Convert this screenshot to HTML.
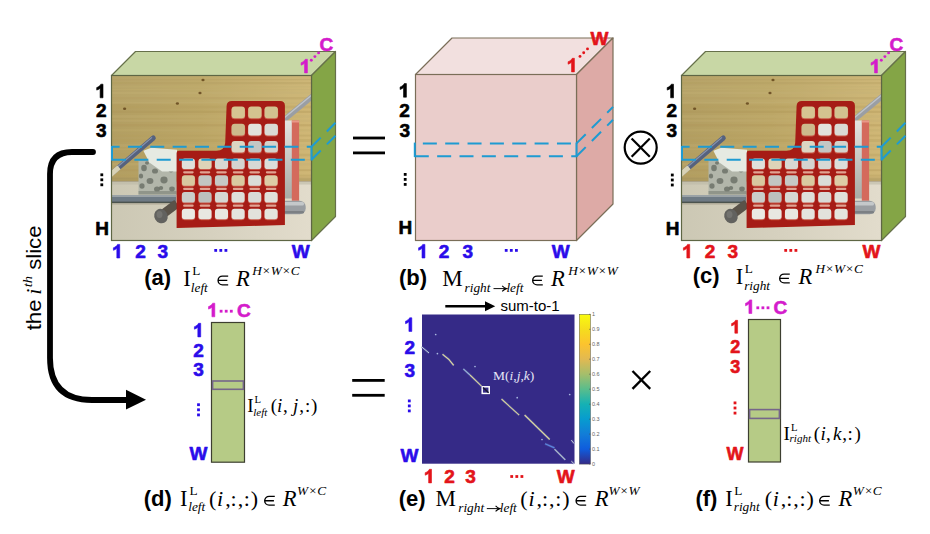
<!DOCTYPE html><html><head><meta charset="utf-8"><style>html,body{margin:0;padding:0;background:#fff;}body{width:930px;height:534px;overflow:hidden;} svg{display:block;}</style></head><body><svg width="930" height="534" viewBox="0 0 930 534">
<defs><clipPath id="cpA"><rect x="111.5" y="75.5" width="200" height="165"/></clipPath><linearGradient id="flr" x1="0" y1="0" x2="1" y2="0"><stop offset="0" stop-color="#ccc8b4"/><stop offset="0.5" stop-color="#d6d1bf"/><stop offset="1" stop-color="#e2dccc"/></linearGradient><linearGradient id="wood" x1="0" y1="0" x2="1" y2="0"><stop offset="0" stop-color="#b29e62"/><stop offset="0.45" stop-color="#bca666"/><stop offset="1" stop-color="#d0b776"/></linearGradient><linearGradient id="wbx" x1="0" y1="0" x2="0" y2="1"><stop offset="0" stop-color="#e4e4e0"/><stop offset="1" stop-color="#a8aaa6"/></linearGradient><filter id="soft" x="0" y="0" width="1" height="1"><feGaussianBlur stdDeviation="0.45"/></filter><linearGradient id="parula" x1="0" y1="1" x2="0" y2="0"><stop offset="0" stop-color="#352a87"/><stop offset="0.1" stop-color="#0f5cdd"/><stop offset="0.2" stop-color="#127dd8"/><stop offset="0.3" stop-color="#079ccf"/><stop offset="0.4" stop-color="#15b1b4"/><stop offset="0.5" stop-color="#59bd8c"/><stop offset="0.6" stop-color="#a5be6b"/><stop offset="0.7" stop-color="#e1b952"/><stop offset="0.8" stop-color="#fcc32e"/><stop offset="0.9" stop-color="#f5dd1d"/><stop offset="1" stop-color="#f9fb0e"/></linearGradient></defs>
<rect width="930" height="534" fill="#fff"/>
<polygon points="111.5,75.5 135.5,51.5 335.5,51.5 311.5,75.5" fill="#c8d7a5" stroke="#66704a" stroke-width="1.2" stroke-linejoin="round"/>
<polygon points="311.5,75.5 335.5,51.5 335.5,216.5 311.5,240.5" fill="#84a546" stroke="#66704a" stroke-width="1.2" stroke-linejoin="round"/>
<g clip-path="url(#cpA)"><g filter="url(#soft)"><rect x="111" y="75" width="201" height="107" fill="url(#wood)"/>
<rect x="111" y="75.0" width="201" height="1.6" fill="#c4b074" opacity="0.35"/>
<rect x="111" y="79.1" width="201" height="1.1" fill="#ad9456" opacity="0.35"/>
<rect x="111" y="82.0" width="201" height="2.2" fill="#ad9456" opacity="0.35"/>
<rect x="111" y="86.2" width="201" height="1.2" fill="#c0ab6e" opacity="0.35"/>
<rect x="111" y="89.0" width="201" height="1.2" fill="#c0ab6e" opacity="0.35"/>
<rect x="111" y="91.8" width="201" height="2.1" fill="#c4b074" opacity="0.35"/>
<rect x="111" y="97.1" width="201" height="2.2" fill="#b09658" opacity="0.35"/>
<rect x="111" y="102.2" width="201" height="1.8" fill="#c4b074" opacity="0.35"/>
<rect x="111" y="105.6" width="201" height="2.7" fill="#b59d5e" opacity="0.35"/>
<rect x="111" y="110.8" width="201" height="2.1" fill="#ad9456" opacity="0.35"/>
<rect x="111" y="115.2" width="201" height="2.6" fill="#c4b074" opacity="0.35"/>
<rect x="111" y="119.6" width="201" height="2.1" fill="#c4b074" opacity="0.35"/>
<rect x="111" y="124.2" width="201" height="2.1" fill="#b09658" opacity="0.35"/>
<rect x="111" y="129.2" width="201" height="2.2" fill="#c0ab6e" opacity="0.35"/>
<rect x="111" y="134.6" width="201" height="1.9" fill="#b59d5e" opacity="0.35"/>
<rect x="111" y="139.1" width="201" height="2.8" fill="#b59d5e" opacity="0.35"/>
<rect x="111" y="144.2" width="201" height="2.6" fill="#c4b074" opacity="0.35"/>
<rect x="111" y="148.5" width="201" height="1.6" fill="#c0ab6e" opacity="0.35"/>
<rect x="111" y="153.8" width="201" height="2.5" fill="#b59d5e" opacity="0.35"/>
<rect x="111" y="159.3" width="201" height="1.1" fill="#ad9456" opacity="0.35"/>
<rect x="111" y="163.0" width="201" height="2.5" fill="#c4b074" opacity="0.35"/>
<rect x="111" y="169.3" width="201" height="1.8" fill="#b09658" opacity="0.35"/>
<rect x="111" y="174.6" width="201" height="2.1" fill="#b59d5e" opacity="0.35"/>
<rect x="111" y="179.1" width="201" height="1.7" fill="#c0ab6e" opacity="0.35"/>
<rect x="111" y="75" width="201" height="28" fill="#c8b880" opacity="0.2"/>
<ellipse cx="203" cy="80" rx="1.6" ry="1.3" fill="#5e4018" opacity="0.8"/>
<ellipse cx="200" cy="93" rx="1.6" ry="1.3" fill="#5e4018" opacity="0.8"/>
<ellipse cx="177.4" cy="103.5" rx="1.6" ry="1.3" fill="#5e4018" opacity="0.8"/>
<ellipse cx="124.6" cy="108.7" rx="1.6" ry="1.3" fill="#5e4018" opacity="0.8"/>
<rect x="111" y="177.5" width="201" height="4" fill="#9c8a58" opacity="0.35"/>
<rect x="111" y="181" width="201" height="1.2" fill="#6a5a3a" opacity="0.7"/>
<rect x="111" y="181.5" width="201" height="59" fill="url(#flr)"/>
<rect x="111" y="181.5" width="201" height="3" fill="#bdb9a6" opacity="0.6"/>
<rect x="111" y="195" width="65" height="8" fill="#6e7a84"/>
<rect x="111" y="195" width="65" height="2" fill="#9aa2a6"/>
<rect x="111" y="201.6" width="65" height="1.6" fill="#4c524e"/>
<rect x="111" y="203.2" width="65" height="1.5" fill="#a8a490" opacity="0.6"/>
<rect x="138.5" y="160.5" width="38" height="34" fill="#b2b6aa"/>
<ellipse cx="144" cy="168" rx="2.8" ry="3.2" fill="#6c7268" opacity="0.85"/>
<ellipse cx="150" cy="181" rx="3.4" ry="3.0" fill="#6c7268" opacity="0.85"/>
<ellipse cx="155" cy="171" rx="3.0" ry="2.6" fill="#6c7268" opacity="0.85"/>
<ellipse cx="164" cy="180" rx="3.6" ry="3.4" fill="#6c7268" opacity="0.85"/>
<ellipse cx="142" cy="186" rx="2.6" ry="2.8" fill="#6c7268" opacity="0.85"/>
<ellipse cx="157" cy="189" rx="3.0" ry="2.6" fill="#6c7268" opacity="0.85"/>
<ellipse cx="171" cy="170" rx="2.6" ry="2.4" fill="#6c7268" opacity="0.85"/>
<ellipse cx="147" cy="163" rx="2.0" ry="1.8" fill="#6c7268" opacity="0.85"/>
<ellipse cx="172" cy="189" rx="2.8" ry="2.4" fill="#6c7268" opacity="0.85"/>
<ellipse cx="141" cy="176" rx="2.2" ry="2.6" fill="#6c7268" opacity="0.85"/>
<ellipse cx="161" cy="188" rx="2.2" ry="2.0" fill="#6c7268" opacity="0.85"/>
<ellipse cx="168" cy="164" rx="2.0" ry="1.8" fill="#6c7268" opacity="0.85"/>
<rect x="138.5" y="191" width="38" height="3.5" fill="#7a7e74" opacity="0.6"/>
<polygon points="143.4,150.7 151.3,147.8 177,149.7 177,171.4 162.1,171.4 149.3,162.5" fill="#e6eae2"/>
<line x1="153.3" y1="138" x2="113" y2="172.4" stroke="#56627e" stroke-width="5" stroke-linecap="round"/>
<line x1="152" y1="137.4" x2="112" y2="171.5" stroke="#8a96ae" stroke-width="1.2"/>
<line x1="119" y1="167.3" x2="110" y2="175" stroke="#d8d2b6" stroke-width="5"/>
<line x1="163" y1="214" x2="177" y2="203.5" stroke="#5a524a" stroke-width="9"/>
<ellipse cx="161" cy="216.1" rx="6.6" ry="7.4" fill="#62625e" transform="rotate(-30 161 216.1)"/>
<ellipse cx="159.5" cy="214.5" rx="3" ry="3.5" fill="#7a7a76" opacity="0.7"/>
<line x1="313" y1="95.8" x2="262" y2="138" stroke="#9a9ea4" stroke-width="5.5"/>
<line x1="313" y1="94" x2="262" y2="136.2" stroke="#c0c4c8" stroke-width="1.4"/>
<rect x="283" y="120.5" width="9" height="78" fill="url(#wbx)"/>
<rect x="291.8" y="120.5" width="7.3" height="80.3" fill="#d46a5c"/>
<rect x="291.8" y="120.5" width="7.3" height="2" fill="#e89888"/>
<rect x="278" y="200.8" width="27.7" height="13.4" rx="6" fill="#9a9ea2"/>
<rect x="278" y="202" width="26" height="3.5" rx="1.5" fill="#c4c8ca"/>
<rect x="278" y="211" width="26" height="2.6" rx="1.3" fill="#7c8084"/>
<path d="M176.6,153 Q176.6,150.7 179,150.7 L216.5,150.7 Q224.5,150.5 225.2,143 L226.6,106 Q226.8,100.9 232,100.9 L280,100.9 Q284.9,100.9 284.9,105.5 L284.9,225 L176.6,228 Z" fill="#a61c12"/>
<rect x="231.3" y="107.6" width="13.9" height="11.6" rx="3.2" fill="#c9584a"/>
<rect x="231.6" y="106.6" width="13.3" height="11.6" rx="3" fill="#d6c592"/>
<rect x="247.9" y="107.6" width="13.9" height="11.6" rx="3.2" fill="#c9584a"/>
<rect x="248.2" y="106.6" width="13.3" height="11.6" rx="3" fill="#d4c390"/>
<rect x="264.3" y="107.6" width="13.9" height="11.6" rx="3.2" fill="#c9584a"/>
<rect x="264.6" y="106.6" width="13.3" height="11.6" rx="3" fill="#d2c290"/>
<rect x="231.3" y="124.8" width="13.9" height="11.6" rx="3.2" fill="#c9584a"/>
<rect x="231.6" y="123.8" width="13.3" height="11.6" rx="3" fill="#cdb98c"/>
<rect x="247.9" y="124.8" width="13.9" height="11.6" rx="3.2" fill="#c9584a"/>
<rect x="248.2" y="123.8" width="13.3" height="11.6" rx="3" fill="#e2e2dc"/>
<rect x="264.3" y="124.8" width="13.9" height="11.6" rx="3.2" fill="#c9584a"/>
<rect x="264.6" y="123.8" width="13.3" height="11.6" rx="3" fill="#dadad4"/>
<rect x="231.3" y="142.0" width="13.9" height="11.6" rx="3.2" fill="#c9584a"/>
<rect x="231.6" y="141.0" width="13.3" height="11.6" rx="3" fill="#dcd6c4"/>
<rect x="247.9" y="142.0" width="13.9" height="11.6" rx="3.2" fill="#c9584a"/>
<rect x="248.2" y="141.0" width="13.3" height="11.6" rx="3" fill="#c4c6c4"/>
<rect x="264.3" y="142.0" width="13.9" height="11.6" rx="3.2" fill="#c9584a"/>
<rect x="264.6" y="141.0" width="13.3" height="11.6" rx="3" fill="#d4d2ca"/>
<rect x="181.6" y="159.6" width="13.6" height="10.5" rx="3" fill="#c9584a"/>
<rect x="181.9" y="158.6" width="13" height="10.5" rx="2.8" fill="#e0e0da"/>
<rect x="183.1" y="171.2" width="10.6" height="2.2" rx="1.1" fill="#e8b2a2" opacity="0.9"/>
<rect x="198.2" y="159.6" width="13.6" height="10.5" rx="3" fill="#c9584a"/>
<rect x="198.5" y="158.6" width="13" height="10.5" rx="2.8" fill="#ddd4b8"/>
<rect x="199.7" y="171.2" width="10.6" height="2.2" rx="1.1" fill="#e8b2a2" opacity="0.9"/>
<rect x="214.7" y="159.6" width="13.6" height="10.5" rx="3" fill="#c9584a"/>
<rect x="215.0" y="158.6" width="13" height="10.5" rx="2.8" fill="#d8d8d2"/>
<rect x="216.2" y="171.2" width="10.6" height="2.2" rx="1.1" fill="#e8b2a2" opacity="0.9"/>
<rect x="231.3" y="159.6" width="13.6" height="10.5" rx="3" fill="#c9584a"/>
<rect x="231.6" y="158.6" width="13" height="10.5" rx="2.8" fill="#d4d4cf"/>
<rect x="232.8" y="171.2" width="10.6" height="2.2" rx="1.1" fill="#e8b2a2" opacity="0.9"/>
<rect x="247.9" y="159.6" width="13.6" height="10.5" rx="3" fill="#c9584a"/>
<rect x="248.2" y="158.6" width="13" height="10.5" rx="2.8" fill="#d6d8d4"/>
<rect x="249.4" y="171.2" width="10.6" height="2.2" rx="1.1" fill="#e8b2a2" opacity="0.9"/>
<rect x="264.3" y="159.6" width="13.6" height="10.5" rx="3" fill="#c9584a"/>
<rect x="264.6" y="158.6" width="13" height="10.5" rx="2.8" fill="#dcdeda"/>
<rect x="265.8" y="171.2" width="10.6" height="2.2" rx="1.1" fill="#e8b2a2" opacity="0.9"/>
<rect x="181.6" y="176.2" width="13.6" height="10.5" rx="3" fill="#c9584a"/>
<rect x="181.9" y="175.2" width="13" height="10.5" rx="2.8" fill="#d8c8a0"/>
<rect x="183.1" y="187.8" width="10.6" height="2.2" rx="1.1" fill="#e8b2a2" opacity="0.9"/>
<rect x="198.2" y="176.2" width="13.6" height="10.5" rx="3" fill="#c9584a"/>
<rect x="198.5" y="175.2" width="13" height="10.5" rx="2.8" fill="#c2c6c2"/>
<rect x="199.7" y="187.8" width="10.6" height="2.2" rx="1.1" fill="#e8b2a2" opacity="0.9"/>
<rect x="214.7" y="176.2" width="13.6" height="10.5" rx="3" fill="#c9584a"/>
<rect x="215.0" y="175.2" width="13" height="10.5" rx="2.8" fill="#c6c8c4"/>
<rect x="216.2" y="187.8" width="10.6" height="2.2" rx="1.1" fill="#e8b2a2" opacity="0.9"/>
<rect x="231.3" y="176.2" width="13.6" height="10.5" rx="3" fill="#c9584a"/>
<rect x="231.6" y="175.2" width="13" height="10.5" rx="2.8" fill="#d9c9a0"/>
<rect x="232.8" y="187.8" width="10.6" height="2.2" rx="1.1" fill="#e8b2a2" opacity="0.9"/>
<rect x="247.9" y="176.2" width="13.6" height="10.5" rx="3" fill="#c9584a"/>
<rect x="248.2" y="175.2" width="13" height="10.5" rx="2.8" fill="#dadcd8"/>
<rect x="249.4" y="187.8" width="10.6" height="2.2" rx="1.1" fill="#e8b2a2" opacity="0.9"/>
<rect x="264.3" y="176.2" width="13.6" height="10.5" rx="3" fill="#c9584a"/>
<rect x="264.6" y="175.2" width="13" height="10.5" rx="2.8" fill="#ddcca6"/>
<rect x="265.8" y="187.8" width="10.6" height="2.2" rx="1.1" fill="#e8b2a2" opacity="0.9"/>
<rect x="181.6" y="193.0" width="13.6" height="10.5" rx="3" fill="#c9584a"/>
<rect x="181.9" y="192.0" width="13" height="10.5" rx="2.8" fill="#cacecb"/>
<rect x="183.1" y="204.6" width="10.6" height="2.2" rx="1.1" fill="#e8b2a2" opacity="0.9"/>
<rect x="198.2" y="193.0" width="13.6" height="10.5" rx="3" fill="#c9584a"/>
<rect x="198.5" y="192.0" width="13" height="10.5" rx="2.8" fill="#bcc0be"/>
<rect x="199.7" y="204.6" width="10.6" height="2.2" rx="1.1" fill="#e8b2a2" opacity="0.9"/>
<rect x="214.7" y="193.0" width="13.6" height="10.5" rx="3" fill="#c9584a"/>
<rect x="215.0" y="192.0" width="13" height="10.5" rx="2.8" fill="#d6d7d3"/>
<rect x="216.2" y="204.6" width="10.6" height="2.2" rx="1.1" fill="#e8b2a2" opacity="0.9"/>
<rect x="231.3" y="193.0" width="13.6" height="10.5" rx="3" fill="#c9584a"/>
<rect x="231.6" y="192.0" width="13" height="10.5" rx="2.8" fill="#dedfd9"/>
<rect x="232.8" y="204.6" width="10.6" height="2.2" rx="1.1" fill="#e8b2a2" opacity="0.9"/>
<rect x="247.9" y="193.0" width="13.6" height="10.5" rx="3" fill="#c9584a"/>
<rect x="248.2" y="192.0" width="13" height="10.5" rx="2.8" fill="#d8dad6"/>
<rect x="249.4" y="204.6" width="10.6" height="2.2" rx="1.1" fill="#e8b2a2" opacity="0.9"/>
<rect x="264.3" y="193.0" width="13.6" height="10.5" rx="3" fill="#c9584a"/>
<rect x="264.6" y="192.0" width="13" height="10.5" rx="2.8" fill="#e0e0da"/>
<rect x="265.8" y="204.6" width="10.6" height="2.2" rx="1.1" fill="#e8b2a2" opacity="0.9"/>
<rect x="181.6" y="209.8" width="13.6" height="10.5" rx="3" fill="#c9584a"/>
<rect x="181.9" y="208.8" width="13" height="10.5" rx="2.8" fill="#eaeae4"/>
<rect x="198.2" y="209.8" width="13.6" height="10.5" rx="3" fill="#c9584a"/>
<rect x="198.5" y="208.8" width="13" height="10.5" rx="2.8" fill="#e8e8e2"/>
<rect x="214.7" y="209.8" width="13.6" height="10.5" rx="3" fill="#c9584a"/>
<rect x="215.0" y="208.8" width="13" height="10.5" rx="2.8" fill="#e8e7e0"/>
<rect x="231.3" y="209.8" width="13.6" height="10.5" rx="3" fill="#c9584a"/>
<rect x="231.6" y="208.8" width="13" height="10.5" rx="2.8" fill="#e4e4de"/>
<rect x="247.9" y="209.8" width="13.6" height="10.5" rx="3" fill="#c9584a"/>
<rect x="248.2" y="208.8" width="13" height="10.5" rx="2.8" fill="#e2e2dc"/>
<rect x="264.3" y="209.8" width="13.6" height="10.5" rx="3" fill="#c9584a"/>
<rect x="264.6" y="208.8" width="13" height="10.5" rx="2.8" fill="#e4e4dc"/></g></g>
<rect x="111.5" y="75.5" width="200.0" height="165.0" fill="none" stroke="#5e6644" stroke-width="1.2"/>
<line x1="112" y1="146.8" x2="311.5" y2="146.8" stroke="#1e9bd2" stroke-width="2" fill="none" stroke-dasharray="14 8.35" stroke-dashoffset="6.4"/>
<line x1="112" y1="159.7" x2="311.5" y2="159.7" stroke="#1e9bd2" stroke-width="2" fill="none" stroke-dasharray="14 8.35" stroke-dashoffset="0"/>
<line x1="112" y1="146.0" x2="112" y2="160.5" stroke="#1e9bd2" stroke-width="2" fill="none"/>
<line x1="311.5" y1="146.0" x2="311.5" y2="160.5" stroke="#1e9bd2" stroke-width="2" fill="none"/>
<line x1="311.5" y1="146.8" x2="335.5" y2="122.80000000000001" stroke="#1e9bd2" stroke-width="2" fill="none" stroke-dasharray="13 8.7"/>
<line x1="311.5" y1="159.7" x2="335.5" y2="135.7" stroke="#1e9bd2" stroke-width="2" fill="none" stroke-dasharray="13 8.7"/>
<g transform="translate(570,0)">
<polygon points="111.5,75.5 135.5,51.5 335.5,51.5 311.5,75.5" fill="#c8d7a5" stroke="#66704a" stroke-width="1.2" stroke-linejoin="round"/>
<polygon points="311.5,75.5 335.5,51.5 335.5,216.5 311.5,240.5" fill="#84a546" stroke="#66704a" stroke-width="1.2" stroke-linejoin="round"/>
<g clip-path="url(#cpA)"><g filter="url(#soft)"><rect x="111" y="75" width="201" height="107" fill="url(#wood)"/>
<rect x="111" y="75.0" width="201" height="1.6" fill="#c4b074" opacity="0.35"/>
<rect x="111" y="79.1" width="201" height="1.1" fill="#ad9456" opacity="0.35"/>
<rect x="111" y="82.0" width="201" height="2.2" fill="#ad9456" opacity="0.35"/>
<rect x="111" y="86.2" width="201" height="1.2" fill="#c0ab6e" opacity="0.35"/>
<rect x="111" y="89.0" width="201" height="1.2" fill="#c0ab6e" opacity="0.35"/>
<rect x="111" y="91.8" width="201" height="2.1" fill="#c4b074" opacity="0.35"/>
<rect x="111" y="97.1" width="201" height="2.2" fill="#b09658" opacity="0.35"/>
<rect x="111" y="102.2" width="201" height="1.8" fill="#c4b074" opacity="0.35"/>
<rect x="111" y="105.6" width="201" height="2.7" fill="#b59d5e" opacity="0.35"/>
<rect x="111" y="110.8" width="201" height="2.1" fill="#ad9456" opacity="0.35"/>
<rect x="111" y="115.2" width="201" height="2.6" fill="#c4b074" opacity="0.35"/>
<rect x="111" y="119.6" width="201" height="2.1" fill="#c4b074" opacity="0.35"/>
<rect x="111" y="124.2" width="201" height="2.1" fill="#b09658" opacity="0.35"/>
<rect x="111" y="129.2" width="201" height="2.2" fill="#c0ab6e" opacity="0.35"/>
<rect x="111" y="134.6" width="201" height="1.9" fill="#b59d5e" opacity="0.35"/>
<rect x="111" y="139.1" width="201" height="2.8" fill="#b59d5e" opacity="0.35"/>
<rect x="111" y="144.2" width="201" height="2.6" fill="#c4b074" opacity="0.35"/>
<rect x="111" y="148.5" width="201" height="1.6" fill="#c0ab6e" opacity="0.35"/>
<rect x="111" y="153.8" width="201" height="2.5" fill="#b59d5e" opacity="0.35"/>
<rect x="111" y="159.3" width="201" height="1.1" fill="#ad9456" opacity="0.35"/>
<rect x="111" y="163.0" width="201" height="2.5" fill="#c4b074" opacity="0.35"/>
<rect x="111" y="169.3" width="201" height="1.8" fill="#b09658" opacity="0.35"/>
<rect x="111" y="174.6" width="201" height="2.1" fill="#b59d5e" opacity="0.35"/>
<rect x="111" y="179.1" width="201" height="1.7" fill="#c0ab6e" opacity="0.35"/>
<rect x="111" y="75" width="201" height="28" fill="#c8b880" opacity="0.2"/>
<ellipse cx="203" cy="80" rx="1.6" ry="1.3" fill="#5e4018" opacity="0.8"/>
<ellipse cx="200" cy="93" rx="1.6" ry="1.3" fill="#5e4018" opacity="0.8"/>
<ellipse cx="177.4" cy="103.5" rx="1.6" ry="1.3" fill="#5e4018" opacity="0.8"/>
<ellipse cx="124.6" cy="108.7" rx="1.6" ry="1.3" fill="#5e4018" opacity="0.8"/>
<rect x="111" y="177.5" width="201" height="4" fill="#9c8a58" opacity="0.35"/>
<rect x="111" y="181" width="201" height="1.2" fill="#6a5a3a" opacity="0.7"/>
<rect x="111" y="181.5" width="201" height="59" fill="url(#flr)"/>
<rect x="111" y="181.5" width="201" height="3" fill="#bdb9a6" opacity="0.6"/>
<rect x="111" y="195" width="65" height="8" fill="#6e7a84"/>
<rect x="111" y="195" width="65" height="2" fill="#9aa2a6"/>
<rect x="111" y="201.6" width="65" height="1.6" fill="#4c524e"/>
<rect x="111" y="203.2" width="65" height="1.5" fill="#a8a490" opacity="0.6"/>
<rect x="138.5" y="160.5" width="38" height="34" fill="#b2b6aa"/>
<ellipse cx="144" cy="168" rx="2.8" ry="3.2" fill="#6c7268" opacity="0.85"/>
<ellipse cx="150" cy="181" rx="3.4" ry="3.0" fill="#6c7268" opacity="0.85"/>
<ellipse cx="155" cy="171" rx="3.0" ry="2.6" fill="#6c7268" opacity="0.85"/>
<ellipse cx="164" cy="180" rx="3.6" ry="3.4" fill="#6c7268" opacity="0.85"/>
<ellipse cx="142" cy="186" rx="2.6" ry="2.8" fill="#6c7268" opacity="0.85"/>
<ellipse cx="157" cy="189" rx="3.0" ry="2.6" fill="#6c7268" opacity="0.85"/>
<ellipse cx="171" cy="170" rx="2.6" ry="2.4" fill="#6c7268" opacity="0.85"/>
<ellipse cx="147" cy="163" rx="2.0" ry="1.8" fill="#6c7268" opacity="0.85"/>
<ellipse cx="172" cy="189" rx="2.8" ry="2.4" fill="#6c7268" opacity="0.85"/>
<ellipse cx="141" cy="176" rx="2.2" ry="2.6" fill="#6c7268" opacity="0.85"/>
<ellipse cx="161" cy="188" rx="2.2" ry="2.0" fill="#6c7268" opacity="0.85"/>
<ellipse cx="168" cy="164" rx="2.0" ry="1.8" fill="#6c7268" opacity="0.85"/>
<rect x="138.5" y="191" width="38" height="3.5" fill="#7a7e74" opacity="0.6"/>
<polygon points="143.4,150.7 151.3,147.8 177,149.7 177,171.4 162.1,171.4 149.3,162.5" fill="#e6eae2"/>
<line x1="153.3" y1="138" x2="113" y2="172.4" stroke="#56627e" stroke-width="5" stroke-linecap="round"/>
<line x1="152" y1="137.4" x2="112" y2="171.5" stroke="#8a96ae" stroke-width="1.2"/>
<line x1="119" y1="167.3" x2="110" y2="175" stroke="#d8d2b6" stroke-width="5"/>
<line x1="163" y1="214" x2="177" y2="203.5" stroke="#5a524a" stroke-width="9"/>
<ellipse cx="161" cy="216.1" rx="6.6" ry="7.4" fill="#62625e" transform="rotate(-30 161 216.1)"/>
<ellipse cx="159.5" cy="214.5" rx="3" ry="3.5" fill="#7a7a76" opacity="0.7"/>
<line x1="313" y1="95.8" x2="262" y2="138" stroke="#9a9ea4" stroke-width="5.5"/>
<line x1="313" y1="94" x2="262" y2="136.2" stroke="#c0c4c8" stroke-width="1.4"/>
<rect x="283" y="120.5" width="9" height="78" fill="url(#wbx)"/>
<rect x="291.8" y="120.5" width="7.3" height="80.3" fill="#d46a5c"/>
<rect x="291.8" y="120.5" width="7.3" height="2" fill="#e89888"/>
<rect x="278" y="200.8" width="27.7" height="13.4" rx="6" fill="#9a9ea2"/>
<rect x="278" y="202" width="26" height="3.5" rx="1.5" fill="#c4c8ca"/>
<rect x="278" y="211" width="26" height="2.6" rx="1.3" fill="#7c8084"/>
<path d="M176.6,153 Q176.6,150.7 179,150.7 L216.5,150.7 Q224.5,150.5 225.2,143 L226.6,106 Q226.8,100.9 232,100.9 L280,100.9 Q284.9,100.9 284.9,105.5 L284.9,225 L176.6,228 Z" fill="#a61c12"/>
<rect x="231.3" y="107.6" width="13.9" height="11.6" rx="3.2" fill="#c9584a"/>
<rect x="231.6" y="106.6" width="13.3" height="11.6" rx="3" fill="#d6c592"/>
<rect x="247.9" y="107.6" width="13.9" height="11.6" rx="3.2" fill="#c9584a"/>
<rect x="248.2" y="106.6" width="13.3" height="11.6" rx="3" fill="#d4c390"/>
<rect x="264.3" y="107.6" width="13.9" height="11.6" rx="3.2" fill="#c9584a"/>
<rect x="264.6" y="106.6" width="13.3" height="11.6" rx="3" fill="#d2c290"/>
<rect x="231.3" y="124.8" width="13.9" height="11.6" rx="3.2" fill="#c9584a"/>
<rect x="231.6" y="123.8" width="13.3" height="11.6" rx="3" fill="#cdb98c"/>
<rect x="247.9" y="124.8" width="13.9" height="11.6" rx="3.2" fill="#c9584a"/>
<rect x="248.2" y="123.8" width="13.3" height="11.6" rx="3" fill="#e2e2dc"/>
<rect x="264.3" y="124.8" width="13.9" height="11.6" rx="3.2" fill="#c9584a"/>
<rect x="264.6" y="123.8" width="13.3" height="11.6" rx="3" fill="#dadad4"/>
<rect x="231.3" y="142.0" width="13.9" height="11.6" rx="3.2" fill="#c9584a"/>
<rect x="231.6" y="141.0" width="13.3" height="11.6" rx="3" fill="#dcd6c4"/>
<rect x="247.9" y="142.0" width="13.9" height="11.6" rx="3.2" fill="#c9584a"/>
<rect x="248.2" y="141.0" width="13.3" height="11.6" rx="3" fill="#c4c6c4"/>
<rect x="264.3" y="142.0" width="13.9" height="11.6" rx="3.2" fill="#c9584a"/>
<rect x="264.6" y="141.0" width="13.3" height="11.6" rx="3" fill="#d4d2ca"/>
<rect x="181.6" y="159.6" width="13.6" height="10.5" rx="3" fill="#c9584a"/>
<rect x="181.9" y="158.6" width="13" height="10.5" rx="2.8" fill="#e0e0da"/>
<rect x="183.1" y="171.2" width="10.6" height="2.2" rx="1.1" fill="#e8b2a2" opacity="0.9"/>
<rect x="198.2" y="159.6" width="13.6" height="10.5" rx="3" fill="#c9584a"/>
<rect x="198.5" y="158.6" width="13" height="10.5" rx="2.8" fill="#ddd4b8"/>
<rect x="199.7" y="171.2" width="10.6" height="2.2" rx="1.1" fill="#e8b2a2" opacity="0.9"/>
<rect x="214.7" y="159.6" width="13.6" height="10.5" rx="3" fill="#c9584a"/>
<rect x="215.0" y="158.6" width="13" height="10.5" rx="2.8" fill="#d8d8d2"/>
<rect x="216.2" y="171.2" width="10.6" height="2.2" rx="1.1" fill="#e8b2a2" opacity="0.9"/>
<rect x="231.3" y="159.6" width="13.6" height="10.5" rx="3" fill="#c9584a"/>
<rect x="231.6" y="158.6" width="13" height="10.5" rx="2.8" fill="#d4d4cf"/>
<rect x="232.8" y="171.2" width="10.6" height="2.2" rx="1.1" fill="#e8b2a2" opacity="0.9"/>
<rect x="247.9" y="159.6" width="13.6" height="10.5" rx="3" fill="#c9584a"/>
<rect x="248.2" y="158.6" width="13" height="10.5" rx="2.8" fill="#d6d8d4"/>
<rect x="249.4" y="171.2" width="10.6" height="2.2" rx="1.1" fill="#e8b2a2" opacity="0.9"/>
<rect x="264.3" y="159.6" width="13.6" height="10.5" rx="3" fill="#c9584a"/>
<rect x="264.6" y="158.6" width="13" height="10.5" rx="2.8" fill="#dcdeda"/>
<rect x="265.8" y="171.2" width="10.6" height="2.2" rx="1.1" fill="#e8b2a2" opacity="0.9"/>
<rect x="181.6" y="176.2" width="13.6" height="10.5" rx="3" fill="#c9584a"/>
<rect x="181.9" y="175.2" width="13" height="10.5" rx="2.8" fill="#d8c8a0"/>
<rect x="183.1" y="187.8" width="10.6" height="2.2" rx="1.1" fill="#e8b2a2" opacity="0.9"/>
<rect x="198.2" y="176.2" width="13.6" height="10.5" rx="3" fill="#c9584a"/>
<rect x="198.5" y="175.2" width="13" height="10.5" rx="2.8" fill="#c2c6c2"/>
<rect x="199.7" y="187.8" width="10.6" height="2.2" rx="1.1" fill="#e8b2a2" opacity="0.9"/>
<rect x="214.7" y="176.2" width="13.6" height="10.5" rx="3" fill="#c9584a"/>
<rect x="215.0" y="175.2" width="13" height="10.5" rx="2.8" fill="#c6c8c4"/>
<rect x="216.2" y="187.8" width="10.6" height="2.2" rx="1.1" fill="#e8b2a2" opacity="0.9"/>
<rect x="231.3" y="176.2" width="13.6" height="10.5" rx="3" fill="#c9584a"/>
<rect x="231.6" y="175.2" width="13" height="10.5" rx="2.8" fill="#d9c9a0"/>
<rect x="232.8" y="187.8" width="10.6" height="2.2" rx="1.1" fill="#e8b2a2" opacity="0.9"/>
<rect x="247.9" y="176.2" width="13.6" height="10.5" rx="3" fill="#c9584a"/>
<rect x="248.2" y="175.2" width="13" height="10.5" rx="2.8" fill="#dadcd8"/>
<rect x="249.4" y="187.8" width="10.6" height="2.2" rx="1.1" fill="#e8b2a2" opacity="0.9"/>
<rect x="264.3" y="176.2" width="13.6" height="10.5" rx="3" fill="#c9584a"/>
<rect x="264.6" y="175.2" width="13" height="10.5" rx="2.8" fill="#ddcca6"/>
<rect x="265.8" y="187.8" width="10.6" height="2.2" rx="1.1" fill="#e8b2a2" opacity="0.9"/>
<rect x="181.6" y="193.0" width="13.6" height="10.5" rx="3" fill="#c9584a"/>
<rect x="181.9" y="192.0" width="13" height="10.5" rx="2.8" fill="#cacecb"/>
<rect x="183.1" y="204.6" width="10.6" height="2.2" rx="1.1" fill="#e8b2a2" opacity="0.9"/>
<rect x="198.2" y="193.0" width="13.6" height="10.5" rx="3" fill="#c9584a"/>
<rect x="198.5" y="192.0" width="13" height="10.5" rx="2.8" fill="#bcc0be"/>
<rect x="199.7" y="204.6" width="10.6" height="2.2" rx="1.1" fill="#e8b2a2" opacity="0.9"/>
<rect x="214.7" y="193.0" width="13.6" height="10.5" rx="3" fill="#c9584a"/>
<rect x="215.0" y="192.0" width="13" height="10.5" rx="2.8" fill="#d6d7d3"/>
<rect x="216.2" y="204.6" width="10.6" height="2.2" rx="1.1" fill="#e8b2a2" opacity="0.9"/>
<rect x="231.3" y="193.0" width="13.6" height="10.5" rx="3" fill="#c9584a"/>
<rect x="231.6" y="192.0" width="13" height="10.5" rx="2.8" fill="#dedfd9"/>
<rect x="232.8" y="204.6" width="10.6" height="2.2" rx="1.1" fill="#e8b2a2" opacity="0.9"/>
<rect x="247.9" y="193.0" width="13.6" height="10.5" rx="3" fill="#c9584a"/>
<rect x="248.2" y="192.0" width="13" height="10.5" rx="2.8" fill="#d8dad6"/>
<rect x="249.4" y="204.6" width="10.6" height="2.2" rx="1.1" fill="#e8b2a2" opacity="0.9"/>
<rect x="264.3" y="193.0" width="13.6" height="10.5" rx="3" fill="#c9584a"/>
<rect x="264.6" y="192.0" width="13" height="10.5" rx="2.8" fill="#e0e0da"/>
<rect x="265.8" y="204.6" width="10.6" height="2.2" rx="1.1" fill="#e8b2a2" opacity="0.9"/>
<rect x="181.6" y="209.8" width="13.6" height="10.5" rx="3" fill="#c9584a"/>
<rect x="181.9" y="208.8" width="13" height="10.5" rx="2.8" fill="#eaeae4"/>
<rect x="198.2" y="209.8" width="13.6" height="10.5" rx="3" fill="#c9584a"/>
<rect x="198.5" y="208.8" width="13" height="10.5" rx="2.8" fill="#e8e8e2"/>
<rect x="214.7" y="209.8" width="13.6" height="10.5" rx="3" fill="#c9584a"/>
<rect x="215.0" y="208.8" width="13" height="10.5" rx="2.8" fill="#e8e7e0"/>
<rect x="231.3" y="209.8" width="13.6" height="10.5" rx="3" fill="#c9584a"/>
<rect x="231.6" y="208.8" width="13" height="10.5" rx="2.8" fill="#e4e4de"/>
<rect x="247.9" y="209.8" width="13.6" height="10.5" rx="3" fill="#c9584a"/>
<rect x="248.2" y="208.8" width="13" height="10.5" rx="2.8" fill="#e2e2dc"/>
<rect x="264.3" y="209.8" width="13.6" height="10.5" rx="3" fill="#c9584a"/>
<rect x="264.6" y="208.8" width="13" height="10.5" rx="2.8" fill="#e4e4dc"/></g></g>
<rect x="111.5" y="75.5" width="200.0" height="165.0" fill="none" stroke="#5e6644" stroke-width="1.2"/>
<line x1="112" y1="146.8" x2="311.5" y2="146.8" stroke="#1e9bd2" stroke-width="2" fill="none" stroke-dasharray="14 8.35" stroke-dashoffset="6.4"/>
<line x1="112" y1="159.7" x2="311.5" y2="159.7" stroke="#1e9bd2" stroke-width="2" fill="none" stroke-dasharray="14 8.35" stroke-dashoffset="0"/>
<line x1="112" y1="146.0" x2="112" y2="160.5" stroke="#1e9bd2" stroke-width="2" fill="none"/>
<line x1="311.5" y1="146.0" x2="311.5" y2="160.5" stroke="#1e9bd2" stroke-width="2" fill="none"/>
<line x1="311.5" y1="146.8" x2="335.5" y2="122.80000000000001" stroke="#1e9bd2" stroke-width="2" fill="none" stroke-dasharray="13 8.7"/>
<line x1="311.5" y1="159.7" x2="335.5" y2="135.7" stroke="#1e9bd2" stroke-width="2" fill="none" stroke-dasharray="13 8.7"/>
</g>
<polygon points="415.5,74.5 452.0,38.0 613.0,38.0 576.5,74.5" fill="#f2e0df" stroke="#7a6e58" stroke-width="1.2" stroke-linejoin="round"/>
<polygon points="576.5,74.5 613.0,38.0 613.0,204.0 576.5,240.5" fill="#ddaaa6" stroke="#7a6e58" stroke-width="1.2" stroke-linejoin="round"/>
<rect x="415.5" y="74.5" width="161.0" height="166.0" fill="#eacdcb"/>
<rect x="415.5" y="74.5" width="161.0" height="166.0" fill="none" stroke="#7a6e58" stroke-width="1.2"/>
<line x1="414.8" y1="143.4" x2="576.5" y2="143.4" stroke="#1e9bd2" stroke-width="2" fill="none" stroke-dasharray="14 8.35" stroke-dashoffset="14.3"/>
<line x1="414.8" y1="156.3" x2="576.5" y2="156.3" stroke="#1e9bd2" stroke-width="2" fill="none" stroke-dasharray="14 8.35" stroke-dashoffset="0"/>
<line x1="414.8" y1="142.6" x2="414.8" y2="157.10000000000002" stroke="#1e9bd2" stroke-width="2" fill="none"/>
<line x1="576.5" y1="142.6" x2="576.5" y2="157.10000000000002" stroke="#1e9bd2" stroke-width="2" fill="none"/>
<line x1="576.5" y1="143.4" x2="613.0" y2="106.9" stroke="#1e9bd2" stroke-width="2" fill="none" stroke-dasharray="13 8.7"/>
<line x1="576.5" y1="156.3" x2="613.0" y2="119.80000000000001" stroke="#1e9bd2" stroke-width="2" fill="none" stroke-dasharray="13 8.7"/>
<path d="M103.01,97.80H100.13V88.15Q98.74,89.45 96.70,90.10V87.59Q98.09,87.13 99.30,86.11Q100.41,85.18 100.83,84.20H103.01Z" fill="#000" stroke="#000" stroke-width="0.6" stroke-linejoin="round"/>
<text x="95.97" y="117.1" font-family="Liberation Sans" font-size="19" font-style="normal" font-weight="bold" fill="#000" stroke="#000" stroke-width="0.6" stroke-linejoin="round">2</text>
<text x="96.04" y="136.7" font-family="Liberation Sans" font-size="19" font-style="normal" font-weight="bold" fill="#000" stroke="#000" stroke-width="0.6" stroke-linejoin="round">3</text>
<rect x="100.40" y="173.40" width="2.8" height="2.8" fill="#000"/><rect x="100.40" y="178.40" width="2.8" height="2.8" fill="#000"/><rect x="100.40" y="183.40" width="2.8" height="2.8" fill="#000"/>
<text x="95.14" y="234.6" font-family="Liberation Sans" font-size="19" font-style="normal" font-weight="bold" fill="#000" stroke="#000" stroke-width="0.6" stroke-linejoin="round">H</text>
<path d="M406.41,97.20H403.53V87.55Q402.14,88.85 400.10,89.50V86.99Q401.49,86.53 402.70,85.51Q403.81,84.58 404.23,83.60H406.41Z" fill="#000" stroke="#000" stroke-width="0.6" stroke-linejoin="round"/>
<text x="399.37" y="116.9" font-family="Liberation Sans" font-size="19" font-style="normal" font-weight="bold" fill="#000" stroke="#000" stroke-width="0.6" stroke-linejoin="round">2</text>
<text x="399.44" y="136.9" font-family="Liberation Sans" font-size="19" font-style="normal" font-weight="bold" fill="#000" stroke="#000" stroke-width="0.6" stroke-linejoin="round">3</text>
<rect x="403.80" y="173.00" width="2.8" height="2.8" fill="#000"/><rect x="403.80" y="178.00" width="2.8" height="2.8" fill="#000"/><rect x="403.80" y="183.00" width="2.8" height="2.8" fill="#000"/>
<text x="398.54" y="233.5" font-family="Liberation Sans" font-size="19" font-style="normal" font-weight="bold" fill="#000" stroke="#000" stroke-width="0.6" stroke-linejoin="round">H</text>
<path d="M673.51,97.80H670.63V88.15Q669.24,89.45 667.20,90.10V87.59Q668.59,87.13 669.80,86.11Q670.91,85.18 671.33,84.20H673.51Z" fill="#000" stroke="#000" stroke-width="0.6" stroke-linejoin="round"/>
<text x="666.47" y="117.1" font-family="Liberation Sans" font-size="19" font-style="normal" font-weight="bold" fill="#000" stroke="#000" stroke-width="0.6" stroke-linejoin="round">2</text>
<text x="666.54" y="137.0" font-family="Liberation Sans" font-size="19" font-style="normal" font-weight="bold" fill="#000" stroke="#000" stroke-width="0.6" stroke-linejoin="round">3</text>
<rect x="670.90" y="173.60" width="2.8" height="2.8" fill="#000"/><rect x="670.90" y="178.60" width="2.8" height="2.8" fill="#000"/><rect x="670.90" y="183.60" width="2.8" height="2.8" fill="#000"/>
<text x="665.64" y="234.6" font-family="Liberation Sans" font-size="19" font-style="normal" font-weight="bold" fill="#000" stroke="#000" stroke-width="0.6" stroke-linejoin="round">H</text>
<path d="M119.71,258.00H116.83V248.35Q115.44,249.65 113.40,250.30V247.79Q114.79,247.33 116.00,246.31Q117.11,245.38 117.53,244.40H119.71Z" fill="#2a0cea" stroke="#2a0cea" stroke-width="0.6" stroke-linejoin="round"/>
<text x="135.34" y="258" font-family="Liberation Sans" font-size="19" font-style="normal" font-weight="bold" fill="#2a0cea" stroke="#2a0cea" stroke-width="0.6" stroke-linejoin="round">2</text>
<text x="157.46" y="258" font-family="Liberation Sans" font-size="19" font-style="normal" font-weight="bold" fill="#2a0cea" stroke="#2a0cea" stroke-width="0.6" stroke-linejoin="round">3</text>
<rect x="214.30" y="249.00" width="2.8" height="2.8" fill="#2a0cea"/><rect x="219.40" y="249.00" width="2.8" height="2.8" fill="#2a0cea"/><rect x="224.50" y="249.00" width="2.8" height="2.8" fill="#2a0cea"/>
<text x="291.78" y="258" font-family="Liberation Sans" font-size="19" font-style="normal" font-weight="bold" fill="#2a0cea" stroke="#2a0cea" stroke-width="0.6" stroke-linejoin="round">W</text>
<path d="M424.91,258.00H422.03V248.35Q420.64,249.65 418.60,250.30V247.79Q419.99,247.33 421.20,246.31Q422.31,245.38 422.73,244.40H424.91Z" fill="#2a0cea" stroke="#2a0cea" stroke-width="0.6" stroke-linejoin="round"/>
<text x="438.74" y="258" font-family="Liberation Sans" font-size="19" font-style="normal" font-weight="bold" fill="#2a0cea" stroke="#2a0cea" stroke-width="0.6" stroke-linejoin="round">2</text>
<text x="462.56" y="258" font-family="Liberation Sans" font-size="19" font-style="normal" font-weight="bold" fill="#2a0cea" stroke="#2a0cea" stroke-width="0.6" stroke-linejoin="round">3</text>
<rect x="504.80" y="249.00" width="2.8" height="2.8" fill="#2a0cea"/><rect x="509.90" y="249.00" width="2.8" height="2.8" fill="#2a0cea"/><rect x="515.00" y="249.00" width="2.8" height="2.8" fill="#2a0cea"/>
<text x="551.78" y="258" font-family="Liberation Sans" font-size="19" font-style="normal" font-weight="bold" fill="#2a0cea" stroke="#2a0cea" stroke-width="0.6" stroke-linejoin="round">W</text>
<path d="M689.71,258.00H686.83V248.35Q685.44,249.65 683.40,250.30V247.79Q684.79,247.33 686.00,246.31Q687.11,245.38 687.53,244.40H689.71Z" fill="#e3141a" stroke="#e3141a" stroke-width="0.6" stroke-linejoin="round"/>
<text x="704.84" y="258" font-family="Liberation Sans" font-size="19" font-style="normal" font-weight="bold" fill="#e3141a" stroke="#e3141a" stroke-width="0.6" stroke-linejoin="round">2</text>
<text x="727.46" y="258" font-family="Liberation Sans" font-size="19" font-style="normal" font-weight="bold" fill="#e3141a" stroke="#e3141a" stroke-width="0.6" stroke-linejoin="round">3</text>
<rect x="784.30" y="249.00" width="2.8" height="2.8" fill="#e3141a"/><rect x="789.40" y="249.00" width="2.8" height="2.8" fill="#e3141a"/><rect x="794.50" y="249.00" width="2.8" height="2.8" fill="#e3141a"/>
<text x="862.48" y="258" font-family="Liberation Sans" font-size="19" font-style="normal" font-weight="bold" fill="#e3141a" stroke="#e3141a" stroke-width="0.6" stroke-linejoin="round">W</text>
<path d="M307.41,72.90H304.53V63.25Q303.14,64.55 301.10,65.20V62.69Q302.49,62.23 303.70,61.21Q304.81,60.28 305.23,59.30H307.41Z" fill="#d41ccb" stroke="#d41ccb" stroke-width="0.6" stroke-linejoin="round"/>
<circle cx="311.3" cy="60.3" r="1.45" fill="#d41ccb"/><circle cx="314.9" cy="56.6" r="1.45" fill="#d41ccb"/><circle cx="318.6" cy="52.9" r="1.45" fill="#d41ccb"/>
<text x="319.62" y="51.0" font-family="Liberation Sans" font-size="19" font-style="normal" font-weight="bold" fill="#d41ccb" stroke="#d41ccb" stroke-width="0.6" stroke-linejoin="round">C</text>
<path d="M877.41,72.90H874.53V63.25Q873.14,64.55 871.10,65.20V62.69Q872.49,62.23 873.70,61.21Q874.81,60.28 875.23,59.30H877.41Z" fill="#d41ccb" stroke="#d41ccb" stroke-width="0.6" stroke-linejoin="round"/>
<circle cx="881.3" cy="60.3" r="1.45" fill="#d41ccb"/><circle cx="884.9" cy="56.6" r="1.45" fill="#d41ccb"/><circle cx="888.6" cy="52.9" r="1.45" fill="#d41ccb"/>
<text x="889.62" y="51.0" font-family="Liberation Sans" font-size="19" font-style="normal" font-weight="bold" fill="#d41ccb" stroke="#d41ccb" stroke-width="0.6" stroke-linejoin="round">C</text>
<path d="M574.41,71.90H571.53V62.25Q570.14,63.55 568.10,64.20V61.69Q569.49,61.23 570.70,60.21Q571.81,59.28 572.23,58.30H574.41Z" fill="#e3141a" stroke="#e3141a" stroke-width="0.6" stroke-linejoin="round"/>
<circle cx="580" cy="56.4" r="1.45" fill="#e3141a"/><circle cx="583.7" cy="52.7" r="1.45" fill="#e3141a"/><circle cx="587.5" cy="48.9" r="1.45" fill="#e3141a"/>
<text x="590.48" y="45.0" font-family="Liberation Sans" font-size="19" font-style="normal" font-weight="bold" fill="#e3141a" stroke="#e3141a" stroke-width="0.6" stroke-linejoin="round">W</text>
<rect x="353" y="136.6" width="32" height="2.8" fill="#000"/><rect x="353" y="151.5" width="32" height="2.8" fill="#000"/>
<circle cx="640.7" cy="147.6" r="16" stroke="#000" stroke-width="2.2" fill="none"/><line x1="631.6" y1="138.5" x2="649.8" y2="156.7" stroke="#000" stroke-width="2.2"/><line x1="649.8" y1="138.5" x2="631.6" y2="156.7" stroke="#000" stroke-width="2.2"/>
<text x="144.30" y="285.3" font-family="Liberation Sans" font-size="22" font-style="normal" font-weight="bold" fill="#000" >(a)</text>
<text x="183.19" y="285.7" font-family="Liberation Serif" font-size="22.5" font-style="normal" font-weight="normal" fill="#000" >I</text>
<text x="192.32" y="274.7" font-family="Liberation Serif" font-size="13.3" font-style="normal" font-weight="normal" fill="#000" >L</text>
<text x="190.79" y="291.5" font-family="Liberation Serif" font-size="13.3" font-style="italic" font-weight="normal" fill="#000" >left</text>
<path d="M228.18,276.06 L222.46,276.06 A4.38,4.38 0 0 0 222.46,284.82 L228.18,284.82 M218.08,280.44 L227.32,280.44" stroke="#000" stroke-width="1.36" fill="none"/>
<text x="236.12" y="285.7" font-family="Liberation Serif" font-size="22.5" font-style="italic" font-weight="normal" fill="#000" >R</text>
<text x="252.14" y="275.2" font-family="Liberation Serif" font-size="13.3" font-style="italic" font-weight="normal" fill="#000" >H×W×C</text>
<text x="398.90" y="285.3" font-family="Liberation Sans" font-size="22" font-style="normal" font-weight="bold" fill="#000" >(b)</text>
<text x="442.24" y="285.7" font-family="Liberation Serif" font-size="23.0" font-style="normal" font-weight="normal" fill="#000" >M</text>
<text x="464.56" y="291.7" font-family="Liberation Serif" font-size="13.3" font-style="italic" font-weight="normal" fill="#000" >right</text>
<line x1="493.5" y1="288.59999999999997" x2="505.79999999999995" y2="288.59999999999997" stroke="#000" stroke-width="0.95"/><path d="M502.2,285.9 Q504.2,287.99999999999994 506.4,288.59999999999997 Q504.2,289.2 502.2,291.29999999999995" stroke="#000" stroke-width="1.1" fill="none"/>
<text x="506.39" y="291.7" font-family="Liberation Serif" font-size="13.3" font-style="italic" font-weight="normal" fill="#000" >left</text>
<path d="M542.78,276.06 L537.06,276.06 A4.38,4.38 0 0 0 537.06,284.82 L542.78,284.82 M532.68,280.44 L541.92,280.44" stroke="#000" stroke-width="1.36" fill="none"/>
<text x="550.92" y="285.7" font-family="Liberation Serif" font-size="22.5" font-style="italic" font-weight="normal" fill="#000" >R</text>
<text x="568.14" y="275.2" font-family="Liberation Serif" font-size="13.3" font-style="italic" font-weight="normal" fill="#000" >H×W×W</text>
<text x="692.80" y="283.3" font-family="Liberation Sans" font-size="22" font-style="normal" font-weight="bold" fill="#000" >(c)</text>
<text x="735.69" y="283.7" font-family="Liberation Serif" font-size="22.5" font-style="normal" font-weight="normal" fill="#000" >I</text>
<text x="744.82" y="272.7" font-family="Liberation Serif" font-size="13.3" font-style="normal" font-weight="normal" fill="#000" >L</text>
<text x="744.16" y="289.5" font-family="Liberation Serif" font-size="13.3" font-style="italic" font-weight="normal" fill="#000" >right</text>
<path d="M789.78,274.06 L784.06,274.06 A4.38,4.38 0 0 0 784.06,282.82 L789.78,282.82 M779.68,278.44 L788.92,278.44" stroke="#000" stroke-width="1.36" fill="none"/>
<text x="798.52" y="283.7" font-family="Liberation Serif" font-size="22.5" font-style="italic" font-weight="normal" fill="#000" >R</text>
<text x="815.44" y="273.2" font-family="Liberation Serif" font-size="13.3" font-style="italic" font-weight="normal" fill="#000" >H×W×C</text>
<text x="143.70" y="505.5" font-family="Liberation Sans" font-size="22" font-style="normal" font-weight="bold" fill="#000" >(d)</text>
<text x="179.99" y="505.9" font-family="Liberation Serif" font-size="22.5" font-style="normal" font-weight="normal" fill="#000" >I</text>
<text x="189.42" y="494.9" font-family="Liberation Serif" font-size="13.3" font-style="normal" font-weight="normal" fill="#000" >L</text>
<text x="188.19" y="511.4" font-family="Liberation Serif" font-size="13.3" font-style="italic" font-weight="normal" fill="#000" >left</text>
<text x="208.93" y="505.9" font-family="Liberation Serif" font-size="22" font-style="normal" font-weight="normal" fill="#000" >(</text>
<text x="217.08" y="505.9" font-family="Liberation Serif" font-size="22" font-style="italic" font-weight="normal" fill="#000" >i</text>
<text x="225.16" y="505.9" font-family="Liberation Serif" font-size="22" font-style="normal" font-weight="normal" fill="#000" >,</text>
<text x="230.56" y="505.9" font-family="Liberation Serif" font-size="22" font-style="normal" font-weight="normal" fill="#000" >:</text>
<text x="237.66" y="505.9" font-family="Liberation Serif" font-size="22" font-style="normal" font-weight="normal" fill="#000" >,</text>
<text x="243.76" y="505.9" font-family="Liberation Serif" font-size="22" font-style="normal" font-weight="normal" fill="#000" >:</text>
<text x="250.79" y="505.9" font-family="Liberation Serif" font-size="22" font-style="normal" font-weight="normal" fill="#000" >)</text>
<path d="M274.78,496.36 L269.06,496.36 A4.38,4.38 0 0 0 269.06,505.12 L274.78,505.12 M264.68,500.74 L273.92,500.74" stroke="#000" stroke-width="1.36" fill="none"/>
<text x="282.72" y="505.9" font-family="Liberation Serif" font-size="22.5" font-style="italic" font-weight="normal" fill="#000" >R</text>
<text x="297.12" y="494.9" font-family="Liberation Serif" font-size="13.3" font-style="italic" font-weight="normal" fill="#000" >W×C</text>
<text x="398.80" y="505.5" font-family="Liberation Sans" font-size="22" font-style="normal" font-weight="bold" fill="#000" >(e)</text>
<text x="435.54" y="505.9" font-family="Liberation Serif" font-size="23.0" font-style="normal" font-weight="normal" fill="#000" >M</text>
<text x="458.26" y="511.7" font-family="Liberation Serif" font-size="13.3" font-style="italic" font-weight="normal" fill="#000" >right</text>
<line x1="486.8" y1="508.59999999999997" x2="499.2" y2="508.59999999999997" stroke="#000" stroke-width="0.95"/><path d="M495.6,505.9 Q497.6,507.99999999999994 499.8,508.59999999999997 Q497.6,509.2 495.6,511.29999999999995" stroke="#000" stroke-width="1.1" fill="none"/>
<text x="499.79" y="511.7" font-family="Liberation Serif" font-size="13.3" font-style="italic" font-weight="normal" fill="#000" >left</text>
<text x="520.33" y="505.9" font-family="Liberation Serif" font-size="22" font-style="normal" font-weight="normal" fill="#000" >(</text>
<text x="528.48" y="505.9" font-family="Liberation Serif" font-size="22" font-style="italic" font-weight="normal" fill="#000" >i</text>
<text x="536.56" y="505.9" font-family="Liberation Serif" font-size="22" font-style="normal" font-weight="normal" fill="#000" >,</text>
<text x="541.96" y="505.9" font-family="Liberation Serif" font-size="22" font-style="normal" font-weight="normal" fill="#000" >:</text>
<text x="549.06" y="505.9" font-family="Liberation Serif" font-size="22" font-style="normal" font-weight="normal" fill="#000" >,</text>
<text x="555.16" y="505.9" font-family="Liberation Serif" font-size="22" font-style="normal" font-weight="normal" fill="#000" >:</text>
<text x="562.19" y="505.9" font-family="Liberation Serif" font-size="22" font-style="normal" font-weight="normal" fill="#000" >)</text>
<path d="M586.18,496.36 L580.46,496.36 A4.38,4.38 0 0 0 580.46,505.12 L586.18,505.12 M576.08,500.74 L585.32,500.74" stroke="#000" stroke-width="1.36" fill="none"/>
<text x="594.82" y="505.9" font-family="Liberation Serif" font-size="22.5" font-style="italic" font-weight="normal" fill="#000" >R</text>
<text x="608.52" y="494.9" font-family="Liberation Serif" font-size="13.3" font-style="italic" font-weight="normal" fill="#000" >W×W</text>
<text x="695.40" y="505.5" font-family="Liberation Sans" font-size="22" font-style="normal" font-weight="bold" fill="#000" >(f)</text>
<text x="725.29" y="505.9" font-family="Liberation Serif" font-size="22.5" font-style="normal" font-weight="normal" fill="#000" >I</text>
<text x="734.32" y="494.9" font-family="Liberation Serif" font-size="13.3" font-style="normal" font-weight="normal" fill="#000" >L</text>
<text x="733.76" y="511.09999999999997" font-family="Liberation Serif" font-size="13.3" font-style="italic" font-weight="normal" fill="#000" >right</text>
<text x="764.63" y="505.9" font-family="Liberation Serif" font-size="22" font-style="normal" font-weight="normal" fill="#000" >(</text>
<text x="772.78" y="505.9" font-family="Liberation Serif" font-size="22" font-style="italic" font-weight="normal" fill="#000" >i</text>
<text x="780.86" y="505.9" font-family="Liberation Serif" font-size="22" font-style="normal" font-weight="normal" fill="#000" >,</text>
<text x="786.26" y="505.9" font-family="Liberation Serif" font-size="22" font-style="normal" font-weight="normal" fill="#000" >:</text>
<text x="793.36" y="505.9" font-family="Liberation Serif" font-size="22" font-style="normal" font-weight="normal" fill="#000" >,</text>
<text x="799.46" y="505.9" font-family="Liberation Serif" font-size="22" font-style="normal" font-weight="normal" fill="#000" >:</text>
<text x="806.49" y="505.9" font-family="Liberation Serif" font-size="22" font-style="normal" font-weight="normal" fill="#000" >)</text>
<path d="M829.78,496.36 L824.06,496.36 A4.38,4.38 0 0 0 824.06,505.12 L829.78,505.12 M819.68,500.74 L828.92,500.74" stroke="#000" stroke-width="1.36" fill="none"/>
<text x="838.42" y="505.9" font-family="Liberation Serif" font-size="22.5" font-style="italic" font-weight="normal" fill="#000" >R</text>
<text x="852.82" y="494.9" font-family="Liberation Serif" font-size="13.3" font-style="italic" font-weight="normal" fill="#000" >W×C</text>
<path d="M93,152 L72,152 Q50,152 50,174 L50,358 Q50,400 92,400 L128,400" stroke="#000" stroke-width="5.8" fill="none" stroke-linecap="round"/>
<polygon points="126,389.7 146,399.8 126,409.6" fill="#000"/>
<g transform="translate(41,330) rotate(-90) scale(1.11,1)"><text x="-0.30" y="0" font-family="Liberation Sans" font-size="20" font-style="normal" font-weight="normal" fill="#000">the</text><text x="31.86" y="0" font-family="Liberation Serif" font-size="20" font-style="italic" font-weight="normal" fill="#000">i</text><text x="38.62" y="-9.5" font-family="Liberation Serif" font-size="13" font-style="italic" font-weight="normal" fill="#000">th</text><text x="54.22" y="0" font-family="Liberation Sans" font-size="20" font-style="normal" font-weight="normal" fill="#000">slice</text></g>
<rect x="211.5" y="322.5" width="33" height="139.7" fill="#b6cb86" stroke="#3d3f30" stroke-width="1.2"/>
<rect x="212.6" y="381" width="30.8" height="8.3" fill="none" stroke="#76668a" stroke-width="1.6"/>
<path d="M214.81,316.80H211.93V307.15Q210.54,308.45 208.50,309.10V306.59Q209.89,306.13 211.10,305.11Q212.21,304.18 212.63,303.20H214.81Z" fill="#d41ccb" stroke="#d41ccb" stroke-width="0.6" stroke-linejoin="round"/>
<rect x="219.70" y="309.80" width="2.8" height="2.8" fill="#d41ccb"/><rect x="224.80" y="309.80" width="2.8" height="2.8" fill="#d41ccb"/><rect x="229.90" y="309.80" width="2.8" height="2.8" fill="#d41ccb"/>
<text x="237.12" y="316.8" font-family="Liberation Sans" font-size="19" font-style="normal" font-weight="bold" fill="#d41ccb" stroke="#d41ccb" stroke-width="0.6" stroke-linejoin="round">C</text>
<path d="M200.71,336.90H197.83V327.25Q196.44,328.55 194.40,329.20V326.69Q195.79,326.23 197.00,325.21Q198.11,324.28 198.53,323.30H200.71Z" fill="#2a0cea" stroke="#2a0cea" stroke-width="0.6" stroke-linejoin="round"/>
<text x="193.17" y="356.6" font-family="Liberation Sans" font-size="19" font-style="normal" font-weight="bold" fill="#2a0cea" stroke="#2a0cea" stroke-width="0.6" stroke-linejoin="round">2</text>
<text x="193.24" y="376.3" font-family="Liberation Sans" font-size="19" font-style="normal" font-weight="bold" fill="#2a0cea" stroke="#2a0cea" stroke-width="0.6" stroke-linejoin="round">3</text>
<rect x="197.10" y="403.30" width="2.8" height="2.8" fill="#2a0cea"/><rect x="197.10" y="408.40" width="2.8" height="2.8" fill="#2a0cea"/><rect x="197.10" y="413.50" width="2.8" height="2.8" fill="#2a0cea"/>
<text x="189.38" y="459.6" font-family="Liberation Sans" font-size="19" font-style="normal" font-weight="bold" fill="#2a0cea" stroke="#2a0cea" stroke-width="0.6" stroke-linejoin="round">W</text>
<text x="247.21" y="411.5" font-family="Liberation Serif" font-size="19" font-style="normal" font-weight="normal" fill="#000" >I</text>
<text x="254.49" y="402.8" font-family="Liberation Serif" font-size="10.7" font-style="normal" font-weight="normal" fill="#000" >L</text>
<text x="253.21" y="416.3" font-family="Liberation Serif" font-size="11" font-style="italic" font-weight="normal" fill="#000" >left</text>
<text x="270.77" y="411.5" font-family="Liberation Serif" font-size="19" font-style="normal" font-weight="normal" fill="#000" >(</text>
<text x="276.94" y="411.5" font-family="Liberation Serif" font-size="19" font-style="italic" font-weight="normal" fill="#000" >i</text>
<text x="282.88" y="411.5" font-family="Liberation Serif" font-size="19" font-style="normal" font-weight="normal" fill="#000" >,</text>
<text x="292.93" y="411.5" font-family="Liberation Serif" font-size="19" font-style="italic" font-weight="normal" fill="#000" >j</text>
<text x="299.18" y="411.5" font-family="Liberation Serif" font-size="19" font-style="normal" font-weight="normal" fill="#000" >,</text>
<text x="304.90" y="411.5" font-family="Liberation Serif" font-size="19" font-style="normal" font-weight="normal" fill="#000" >:</text>
<text x="310.89" y="411.5" font-family="Liberation Serif" font-size="19" font-style="normal" font-weight="normal" fill="#000" >)</text>
<rect x="352.2" y="379" width="32.5" height="2.8" fill="#000"/><rect x="352.2" y="393.9" width="32.5" height="2.8" fill="#000"/>
<line x1="632.5" y1="371" x2="650.2" y2="388.8" stroke="#000" stroke-width="2.4"/><line x1="650.2" y1="371" x2="632.5" y2="388.8" stroke="#000" stroke-width="2.4"/>
<rect x="422" y="314.5" width="152.5" height="149.2" fill="#352a87"/>
<path d="M421.7,346.9 L429,353" stroke="#5a5aa8" stroke-width="2.4" fill="none" opacity="0.5"/>
<path d="M421.7,346.9 L429,353" stroke="#c8d8e0" stroke-width="1.0" fill="none"/>
<path d="M442.5,354.2 Q449,358.5 453.7,365.4" stroke="#5a5aa8" stroke-width="2.5999999999999996" fill="none" opacity="0.5"/>
<path d="M442.5,354.2 Q449,358.5 453.7,365.4" stroke="#dcd8a0" stroke-width="1.2" fill="none"/>
<path d="M463.3,368.8 L470,375" stroke="#5a5aa8" stroke-width="2.5" fill="none" opacity="0.5"/>
<path d="M463.3,368.8 L470,375" stroke="#9ab8d8" stroke-width="1.1" fill="none"/>
<path d="M470,375 L481.5,386.2" stroke="#5a5aa8" stroke-width="2.5" fill="none" opacity="0.5"/>
<path d="M470,375 L481.5,386.2" stroke="#d8d49c" stroke-width="1.1" fill="none"/>
<path d="M501.5,399 L519.2,415.2" stroke="#5a5aa8" stroke-width="2.5" fill="none" opacity="0.5"/>
<path d="M501.5,399 L519.2,415.2" stroke="#d8d49c" stroke-width="1.1" fill="none"/>
<path d="M524.6,415 L549.7,439.5" stroke="#5a5aa8" stroke-width="2.5999999999999996" fill="none" opacity="0.5"/>
<path d="M524.6,415 L549.7,439.5" stroke="#dcd8a0" stroke-width="1.2" fill="none"/>
<path d="M545,443.7 L554.5,447.9" stroke="#5a5aa8" stroke-width="2.5999999999999996" fill="none" opacity="0.5"/>
<path d="M545,443.7 L554.5,447.9" stroke="#5a88e0" stroke-width="1.2" fill="none"/>
<path d="M554.5,449.1 L565.3,459.9" stroke="#5a5aa8" stroke-width="2.5" fill="none" opacity="0.5"/>
<path d="M554.5,449.1 L565.3,459.9" stroke="#b8c8d0" stroke-width="1.1" fill="none"/>
<path d="M571.3,440.1 L574,443.5" stroke="#5a5aa8" stroke-width="2.4" fill="none" opacity="0.5"/>
<path d="M571.3,440.1 L574,443.5" stroke="#c0c8d8" stroke-width="1.0" fill="none"/>
<path d="M571.3,461.1 L574,463.7" stroke="#5a5aa8" stroke-width="2.4" fill="none" opacity="0.5"/>
<path d="M571.3,461.1 L574,463.7" stroke="#c0c8d8" stroke-width="1.0" fill="none"/>
<circle cx="435.7" cy="334.5" r="0.85" fill="#a8b8e0"/>
<circle cx="437.4" cy="353.6" r="0.85" fill="#a8b8e0"/>
<circle cx="475" cy="366.5" r="0.85" fill="#a8b8e0"/>
<circle cx="517.2" cy="397.7" r="0.85" fill="#a8b8e0"/>
<circle cx="569.7" cy="394.5" r="0.85" fill="#a8b8e0"/>
<circle cx="542" cy="439.5" r="0.85" fill="#a8b8e0"/>
<rect x="482.2" y="386.8" width="7" height="6.6" fill="none" stroke="#fff" stroke-width="1.5"/>
<line x1="483" y1="387.5" x2="488.6" y2="392.8" stroke="#1a1a30" stroke-width="1.4"/>
<text x="493.01" y="379.9" font-family="Liberation Serif" font-size="13.5" font-style="normal" font-weight="normal" fill="#e6e6f6" >M</text>
<text x="505.01" y="379.9" font-family="Liberation Serif" font-size="13.5" font-style="normal" font-weight="normal" fill="#e6e6f6" >(<tspan font-style="italic">i</tspan>,<tspan font-style="italic">j</tspan>,<tspan font-style="italic">k</tspan>)</text>
<rect x="579.3" y="314.3" width="11.2" height="149.8" fill="url(#parula)" stroke="#555" stroke-width="0.5"/>
<line x1="589" y1="464.1" x2="590.5" y2="464.1" stroke="#444" stroke-width="0.5"/>
<text x="592" y="466.0" font-family="Liberation Sans" font-size="5.5" fill="#666">0</text>
<line x1="589" y1="449.1" x2="590.5" y2="449.1" stroke="#444" stroke-width="0.5"/>
<text x="592" y="451.0" font-family="Liberation Sans" font-size="5.5" fill="#666">0.1</text>
<line x1="589" y1="434.1" x2="590.5" y2="434.1" stroke="#444" stroke-width="0.5"/>
<text x="592" y="436.0" font-family="Liberation Sans" font-size="5.5" fill="#666">0.2</text>
<line x1="589" y1="419.2" x2="590.5" y2="419.2" stroke="#444" stroke-width="0.5"/>
<text x="592" y="421.1" font-family="Liberation Sans" font-size="5.5" fill="#666">0.3</text>
<line x1="589" y1="404.2" x2="590.5" y2="404.2" stroke="#444" stroke-width="0.5"/>
<text x="592" y="406.1" font-family="Liberation Sans" font-size="5.5" fill="#666">0.4</text>
<line x1="589" y1="389.2" x2="590.5" y2="389.2" stroke="#444" stroke-width="0.5"/>
<text x="592" y="391.1" font-family="Liberation Sans" font-size="5.5" fill="#666">0.5</text>
<line x1="589" y1="374.2" x2="590.5" y2="374.2" stroke="#444" stroke-width="0.5"/>
<text x="592" y="376.1" font-family="Liberation Sans" font-size="5.5" fill="#666">0.6</text>
<line x1="589" y1="359.2" x2="590.5" y2="359.2" stroke="#444" stroke-width="0.5"/>
<text x="592" y="361.1" font-family="Liberation Sans" font-size="5.5" fill="#666">0.7</text>
<line x1="589" y1="344.3" x2="590.5" y2="344.3" stroke="#444" stroke-width="0.5"/>
<text x="592" y="346.2" font-family="Liberation Sans" font-size="5.5" fill="#666">0.8</text>
<line x1="589" y1="329.3" x2="590.5" y2="329.3" stroke="#444" stroke-width="0.5"/>
<text x="592" y="331.2" font-family="Liberation Sans" font-size="5.5" fill="#666">0.9</text>
<line x1="589" y1="314.3" x2="590.5" y2="314.3" stroke="#444" stroke-width="0.5"/>
<text x="592" y="316.2" font-family="Liberation Sans" font-size="5.5" fill="#666">1</text>
<line x1="445.3" y1="306.3" x2="487" y2="306.3" stroke="#000" stroke-width="2.4"/>
<polygon points="485,301.3 495.2,306.3 485,311.3" fill="#000"/>
<text x="500.38" y="310.6" font-family="Liberation Sans" font-size="15" font-style="normal" font-weight="normal" fill="#000" >sum-to-1</text>
<path d="M411.81,331.40H408.93V321.75Q407.54,323.05 405.50,323.70V321.19Q406.89,320.73 408.10,319.71Q409.21,318.78 409.63,317.80H411.81Z" fill="#2a0cea" stroke="#2a0cea" stroke-width="0.6" stroke-linejoin="round"/>
<text x="404.47" y="353.6" font-family="Liberation Sans" font-size="19" font-style="normal" font-weight="bold" fill="#2a0cea" stroke="#2a0cea" stroke-width="0.6" stroke-linejoin="round">2</text>
<text x="404.54" y="376.6" font-family="Liberation Sans" font-size="19" font-style="normal" font-weight="bold" fill="#2a0cea" stroke="#2a0cea" stroke-width="0.6" stroke-linejoin="round">3</text>
<rect x="407.90" y="399.50" width="2.8" height="2.8" fill="#2a0cea"/><rect x="407.90" y="404.50" width="2.8" height="2.8" fill="#2a0cea"/><rect x="407.90" y="409.50" width="2.8" height="2.8" fill="#2a0cea"/>
<text x="400.58" y="461.5" font-family="Liberation Sans" font-size="19" font-style="normal" font-weight="bold" fill="#2a0cea" stroke="#2a0cea" stroke-width="0.6" stroke-linejoin="round">W</text>
<path d="M431.51,482.90H428.63V473.25Q427.24,474.55 425.20,475.20V472.69Q426.59,472.23 427.80,471.21Q428.91,470.28 429.33,469.30H431.51Z" fill="#e3141a" stroke="#e3141a" stroke-width="0.6" stroke-linejoin="round"/>
<text x="444.34" y="482.9" font-family="Liberation Sans" font-size="19" font-style="normal" font-weight="bold" fill="#e3141a" stroke="#e3141a" stroke-width="0.6" stroke-linejoin="round">2</text>
<text x="465.16" y="482.9" font-family="Liberation Sans" font-size="19" font-style="normal" font-weight="bold" fill="#e3141a" stroke="#e3141a" stroke-width="0.6" stroke-linejoin="round">3</text>
<rect x="510.30" y="475.10" width="2.8" height="2.8" fill="#e3141a"/><rect x="515.40" y="475.10" width="2.8" height="2.8" fill="#e3141a"/><rect x="520.50" y="475.10" width="2.8" height="2.8" fill="#e3141a"/>
<text x="556.78" y="482.9" font-family="Liberation Sans" font-size="19" font-style="normal" font-weight="bold" fill="#e3141a" stroke="#e3141a" stroke-width="0.6" stroke-linejoin="round">W</text>
<rect x="748.5" y="319.5" width="32" height="142.5" fill="#b6cb86" stroke="#3d3f30" stroke-width="1.2"/>
<rect x="749.6" y="409.6" width="29.8" height="8.8" fill="none" stroke="#76668a" stroke-width="1.6"/>
<path d="M751.81,313.50H748.93V303.85Q747.54,305.15 745.50,305.80V303.29Q746.89,302.83 748.10,301.81Q749.21,300.88 749.63,299.90H751.81Z" fill="#d41ccb" stroke="#d41ccb" stroke-width="0.6" stroke-linejoin="round"/>
<rect x="756.40" y="306.40" width="2.8" height="2.8" fill="#d41ccb"/><rect x="761.50" y="306.40" width="2.8" height="2.8" fill="#d41ccb"/><rect x="766.60" y="306.40" width="2.8" height="2.8" fill="#d41ccb"/>
<text x="773.42" y="313.5" font-family="Liberation Sans" font-size="19" font-style="normal" font-weight="bold" fill="#d41ccb" stroke="#d41ccb" stroke-width="0.6" stroke-linejoin="round">C</text>
<path d="M737.58,333.20H734.85V324.06Q733.53,325.29 731.60,325.91V323.53Q732.92,323.09 734.06,322.13Q735.12,321.25 735.51,320.32H737.58Z" fill="#e3141a" stroke="#e3141a" stroke-width="0.6" stroke-linejoin="round"/>
<text x="730.24" y="352.9" font-family="Liberation Sans" font-size="18" font-style="normal" font-weight="bold" fill="#e3141a" stroke="#e3141a" stroke-width="0.6" stroke-linejoin="round">2</text>
<text x="730.31" y="372.6" font-family="Liberation Sans" font-size="18" font-style="normal" font-weight="bold" fill="#e3141a" stroke="#e3141a" stroke-width="0.6" stroke-linejoin="round">3</text>
<rect x="733.60" y="401.50" width="2.8" height="2.8" fill="#e3141a"/><rect x="733.60" y="406.60" width="2.8" height="2.8" fill="#e3141a"/><rect x="733.60" y="411.70" width="2.8" height="2.8" fill="#e3141a"/>
<text x="726.58" y="460.2" font-family="Liberation Sans" font-size="18" font-style="normal" font-weight="bold" fill="#e3141a" stroke="#e3141a" stroke-width="0.6" stroke-linejoin="round">W</text>
<text x="783.41" y="439.7" font-family="Liberation Serif" font-size="19" font-style="normal" font-weight="normal" fill="#000" >I</text>
<text x="791.09" y="431.4" font-family="Liberation Serif" font-size="10.7" font-style="normal" font-weight="normal" fill="#000" >L</text>
<text x="789.55" y="442.2" font-family="Liberation Serif" font-size="11" font-style="italic" font-weight="normal" fill="#000" >right</text>
<text x="813.87" y="439.7" font-family="Liberation Serif" font-size="19" font-style="normal" font-weight="normal" fill="#000" >(</text>
<text x="820.54" y="439.7" font-family="Liberation Serif" font-size="19" font-style="italic" font-weight="normal" fill="#000" >i</text>
<text x="825.88" y="439.7" font-family="Liberation Serif" font-size="19" font-style="normal" font-weight="normal" fill="#000" >,</text>
<text x="832.95" y="439.7" font-family="Liberation Serif" font-size="19" font-style="italic" font-weight="normal" fill="#000" >k</text>
<text x="842.28" y="439.7" font-family="Liberation Serif" font-size="19" font-style="normal" font-weight="normal" fill="#000" >,</text>
<text x="847.50" y="439.7" font-family="Liberation Serif" font-size="19" font-style="normal" font-weight="normal" fill="#000" >:</text>
<text x="854.39" y="439.7" font-family="Liberation Serif" font-size="19" font-style="normal" font-weight="normal" fill="#000" >)</text>
</svg></body></html>
